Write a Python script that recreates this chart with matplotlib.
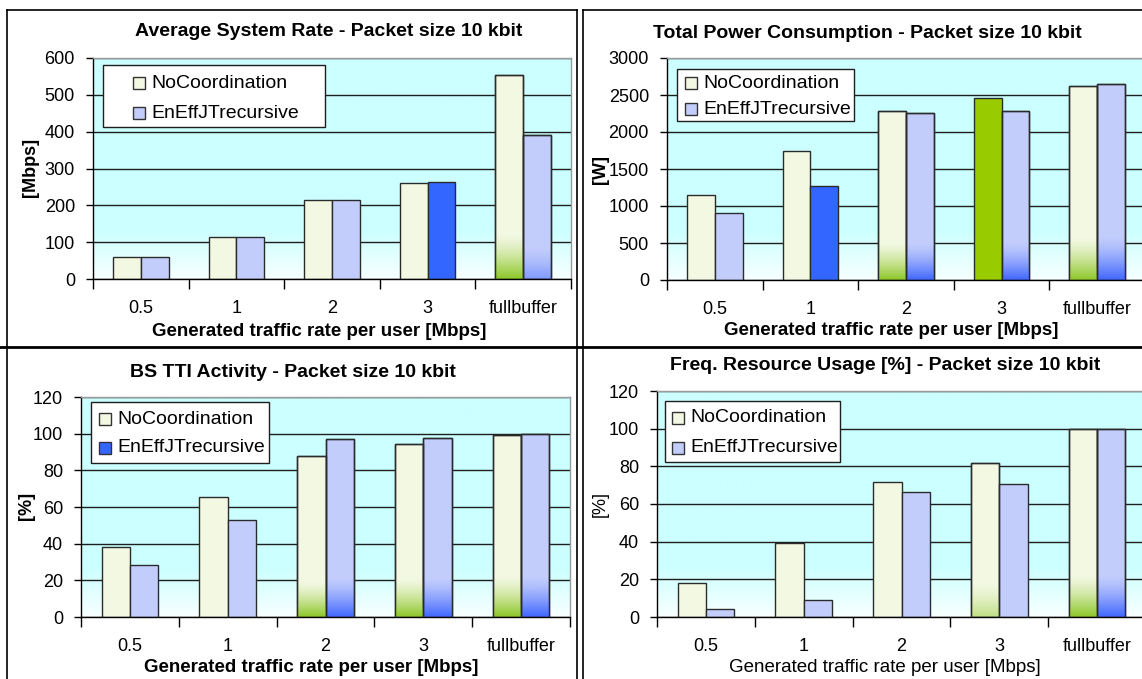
import numpy as np
import matplotlib
matplotlib.use('Agg')
import matplotlib.pyplot as plt
from matplotlib.patches import Rectangle
from matplotlib.lines import Line2D

plt.rcParams['font.family'] = ['Liberation Sans', 'DejaVu Sans']

W, H = 1142, 679

# ---------------- data ----------------
categories = ['0.5', '1', '2', '3', 'fullbuffer']
series_names = ['NoCoordination', 'EnEffJTrecursive']
xlabel_text = 'Generated traffic rate per user [Mbps]'

rate_nocoord = [59, 114, 214, 260, 553]
rate_eneff = [59, 114, 214, 262, 391]

power_nocoord = [1150, 1740, 2290, 2455, 2625]
power_eneff = [910, 1265, 2255, 2290, 2645]

tti_nocoord = [38, 65.5, 88, 94.5, 99.5]
tti_eneff = [28.3, 53, 97.3, 97.7, 100]

freq_nocoord = [17.8, 39.4, 71.8, 82, 99.7]
freq_eneff = [4.1, 8.8, 66.5, 70.8, 100]

titles = ['Average System Rate - Packet size 10 kbit',
          'Total Power Consumption - Packet size 10 kbit',
          'BS TTI Activity - Packet size 10 kbit',
          'Freq. Resource Usage [%] - Packet size 10 kbit']
ylabels = ['[Mbps]', '[W]', '[%]', '[%]']

# ---------------- style ----------------
C_NO = '#F2F8E2'
C_EN = '#C2CDFC'
C_BLUE = '#3366FF'
C_GREEN = '#99CC00'
C_EDGE = '#2b2b2b'
FADE_NO = (0.55, 0.78, 0.15)
FADE_EN = (0.25, 0.40, 1.0)
FS = 13
FS_TITLE = 14
FS_XLAB = 13.5
FS_LEG = 14

panels = [
    dict(no=rate_nocoord, en=rate_eneff, box=(93, 571, 58, 279), ymax=600, step=100,
         no_col=[C_NO] * 5, en_col=[C_EN, C_EN, C_EN, C_BLUE, C_EN],
         no_fade=[0, 0, 0, 0, 1], en_fade=[0, 0, 0, 0, 0.5],
         leg_box=(103, 65, 325, 127), leg_mark_x=133, leg_text_x=151, leg_y=(83, 113),
         leg_cols=(C_NO, C_EN),
         title_xy=(329, 32), ylab_xy=(31, 167), xlab_xy=(319, 331), bold_axes=True),
    dict(no=power_nocoord, en=power_eneff, box=(667, 1145, 58, 280), ymax=3000, step=500,
         no_col=[C_NO, C_NO, C_NO, C_GREEN, C_NO], en_col=[C_EN, C_BLUE, C_EN, C_EN, C_EN],
         no_fade=[0, 0, 1, 0, 1], en_fade=[0, 0, 1, 1, 1],
         leg_box=(677, 69, 854, 121), leg_mark_x=685, leg_text_x=703, leg_y=(83, 109),
         leg_cols=(C_NO, C_EN),
         title_xy=(867, 34), ylab_xy=(600, 169), xlab_xy=(891, 330), bold_axes=True),
    dict(no=tti_nocoord, en=tti_eneff, box=(81, 570, 397, 617), ymax=120, step=20,
         no_col=[C_NO] * 5, en_col=[C_EN] * 5,
         no_fade=[0, 0, 1, 1, 1], en_fade=[0, 0, 1, 1, 1],
         leg_box=(91, 402, 269, 463), leg_mark_x=99, leg_text_x=117, leg_y=(419, 448),
         leg_cols=(C_NO, C_BLUE),
         title_xy=(293, 372), ylab_xy=(26, 506), xlab_xy=(311, 667), bold_axes=True),
    dict(no=freq_nocoord, en=freq_eneff, box=(657, 1146, 391, 617), ymax=120, step=20,
         no_col=[C_NO] * 5, en_col=[C_EN] * 5,
         no_fade=[0, 0, 0, 0.5, 1], en_fade=[0, 0, 0, 0, 1],
         leg_box=(665, 401, 840, 462), leg_mark_x=672, leg_text_x=690, leg_y=(418, 448),
         leg_cols=(C_NO, C_EN),
         title_xy=(885, 365), ylab_xy=(600, 504), xlab_xy=(885, 668), bold_axes=False),
]

fig = plt.figure(figsize=(W / 100, H / 100), dpi=100)
fig.patch.set_facecolor('white')


def fx(x):
    return x / W


def fy(y):
    return 1 - y / H


# background gradient image (bottom -> top)
n = 256
f = np.linspace(0, 1, n)
cyan = np.array([0.80, 1.0, 1.0])
white = np.array([0.97, 1.0, 1.0])
t = np.clip(f / 0.22, 0, 1)
bg = (white[None, :] * (1 - t[:, None]) + cyan[None, :] * t[:, None])[:, None, :]

BAR_W = 0.29

for p, title, ylab in zip(panels, titles, ylabels):
    l, r, tp, b = p['box']
    ax = fig.add_axes([fx(l), fy(b), (r - l) / W, (b - tp) / H])
    ax.patch.set_visible(False)
    ax.imshow(bg, extent=(0, 1, 0, 1), transform=ax.transAxes, origin='lower',
              aspect='auto', zorder=0, interpolation='bilinear')
    x = np.arange(len(categories))
    for vals, cols, fades, off, fcol in [(p['no'], p['no_col'], p['no_fade'], -BAR_W / 2, FADE_NO),
                                         (p['en'], p['en_col'], p['en_fade'], BAR_W / 2, FADE_EN)]:
        bars = ax.bar(x + off, vals, width=BAR_W, color=cols, edgecolor=C_EDGE,
                      linewidth=1.0, zorder=2)
        for bar, fd in zip(bars, fades):
            if fd <= 0:
                continue
            x0 = bar.get_x()
            w = bar.get_width()
            h = bar.get_height()
            gh = 0.22 * h
            tt = np.linspace(0, 1, 128)
            a = fd * (1 - tt) ** 1.4
            img = np.zeros((128, 1, 4))
            img[:, 0, 0] = fcol[0]
            img[:, 0, 1] = fcol[1]
            img[:, 0, 2] = fcol[2]
            img[:, 0, 3] = a
            ax.imshow(img, extent=(x0, x0 + w, 0, gh), origin='lower', aspect='auto',
                      zorder=2.5, interpolation='bilinear')
            ax.add_patch(Rectangle((x0, 0), w, h, fill=False, edgecolor=C_EDGE,
                                   linewidth=1.0, zorder=3))
    ax.set_xlim(-0.5, len(categories) - 0.5)
    ax.set_ylim(0, p['ymax'])
    ax.set_yticks(np.arange(0, p['ymax'] + 1, p['step']))
    ax.yaxis.grid(True, color='#1e1e1e', linewidth=1.0)
    ax.set_axisbelow(True)
    ax.set_xticks(x)
    ax.set_xticklabels(categories, fontsize=FS)
    ax.set_xticks(np.arange(-0.5, len(categories)), minor=True)
    ax.tick_params(axis='x', which='major', length=0, pad=15)
    ax.tick_params(axis='x', which='minor', length=7, width=1, direction='out')
    ax.tick_params(axis='y', length=5, width=1, direction='out', pad=8, labelsize=FS)
    for s in ['left', 'bottom']:
        ax.spines[s].set_color('black')
        ax.spines[s].set_linewidth(1.0)
    for s in ['top', 'right']:
        ax.spines[s].set_color('#9a9a9a')
        ax.spines[s].set_linewidth(1.0)

    fw = 'bold' if p['bold_axes'] else 'normal'
    fig.text(fx(p['title_xy'][0]), fy(p['title_xy'][1]), title, ha='center', va='center',
             fontsize=FS_TITLE, fontweight='bold')
    fig.text(fx(p['ylab_xy'][0]), fy(p['ylab_xy'][1]), ylab, ha='center', va='center',
             rotation=90, fontsize=FS, fontweight=fw)
    fig.text(fx(p['xlab_xy'][0]), fy(p['xlab_xy'][1]), xlabel_text, ha='center', va='center',
             fontsize=FS_XLAB, fontweight=fw)

    # legend
    lx0, ly0, lx1, ly1 = p['leg_box']
    fig.add_artist(Rectangle((fx(lx0), fy(ly1)), (lx1 - lx0) / W, (ly1 - ly0) / H,
                             transform=fig.transFigure, facecolor='white',
                             edgecolor='#1e1e1e', linewidth=1.0, zorder=5))
    for name, col, yy in zip(series_names, p['leg_cols'], p['leg_y']):
        ms = 12
        fig.add_artist(Rectangle((fx(p['leg_mark_x']), fy(yy + ms / 2)), ms / W, ms / H,
                                 transform=fig.transFigure, facecolor=col,
                                 edgecolor='#333333', linewidth=1.0, zorder=6))
        fig.text(fx(p['leg_text_x']), fy(yy), name, ha='left', va='center',
                 fontsize=FS_LEG, zorder=7)

# panel frames
lw = 1.2
def hline(y, x0, x1, w=lw):
    fig.add_artist(Line2D([fx(x0), fx(x1)], [fy(y), fy(y)], transform=fig.transFigure,
                          color='black', linewidth=w))

def vline(x, y0, y1, w=lw):
    fig.add_artist(Line2D([fx(x), fx(x)], [fy(y0), fy(y1)], transform=fig.transFigure,
                          color='black', linewidth=w))

hline(10, 7, 577)
hline(10, 583, 1142)
hline(347, 0, 1142, w=2.0)
vline(7, 10, 679)
vline(577, 10, 679)
vline(583, 10, 679)

fig.savefig('out.png', dpi=100, facecolor='white')
